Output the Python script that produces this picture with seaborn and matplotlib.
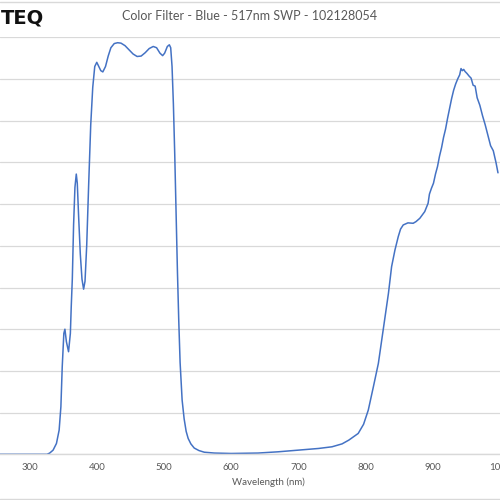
import matplotlib
matplotlib.use("Agg")
import matplotlib.pyplot as plt
from matplotlib.lines import Line2D
import seaborn as sns
import pandas as pd

wavelength = [256, 300, 320, 326, 330, 335, 340, 344, 346.6, 348.6, 351, 352.6, 354.8, 358, 360.7, 362, 363.6,
              365.5, 367.5, 369.5, 371, 373, 375.5, 378, 380.4, 382.5, 385, 388, 391, 394, 397, 400, 403, 406,
              409, 413, 417, 421, 426, 431, 436, 442,
              448, 454, 460, 466, 472, 478, 484, 489, 494, 498, 501, 505, 508, 510, 512, 514, 516, 518, 520, 522,
              524, 527, 530, 533, 536, 540, 545, 552, 560, 575, 600, 640, 670, 700, 730, 750, 765, 775, 789, 797,
              804, 811.6, 819, 824, 829, 834, 838.7, 843.7, 848.6, 852, 856, 863, 870.8, 875, 880.7, 888, 893,
              895, 898, 901, 904, 907, 910, 913, 916, 919, 922, 925, 928, 931, 934, 937, 940, 942, 944, 946, 948,
              951, 954, 957, 960, 963, 966, 970, 974, 978, 982, 986, 990, 994, 997]
transmission = [0, 0, 0, 0, 0.3, 1, 2.6, 5.8, 11.4, 21, 29, 30, 27, 24.6, 29, 35.4, 42,
                55, 64, 67.2, 65, 57, 48, 42, 39.6, 41.5, 50, 65, 79, 88, 93, 94, 93, 92,
                91.7, 93, 95.5, 97.5, 98.5, 98.7, 98.6, 98,
                97, 96, 95.4, 95.5, 96.3, 97.3, 97.8, 97.5, 96.2, 95.6, 96.2, 97.8, 98.2, 97.5, 93, 84, 72, 58, 44, 32,
                22, 13, 8.5, 5.5, 3.8, 2.5, 1.5, 0.9, 0.5, 0.3, 0.2, 0.3, 0.6, 1.0, 1.4, 1.8, 2.5, 3.4, 5.0, 7.2,
                10.6, 16.2, 21.8, 27.4, 33, 38.6, 45, 49, 52.2, 54, 55, 55.5, 55.4, 55.8, 56.6, 58.2, 60.2,
                62.4, 63.8, 65, 67.2, 69, 71.5, 73.5, 76, 78, 80.6, 83, 85.3, 87.3, 88.8, 90, 91, 92.5, 92, 92.3, 91.8,
                91.3, 90.7, 90.2, 88.5, 88.3, 85.5, 83.7, 81.2, 79, 76.5, 74, 72.8, 70, 67.5]
x_ticks = [300, 400, 500, 600, 700, 800, 900, 1000]
title = "Color Filter - Blue - 517nm SWP - 102128054"

df = pd.DataFrame({"Wavelength": wavelength, "T": transmission})

sns.set_theme(style="white")
plt.rcParams["font.family"] = ["Lato", "DejaVu Sans"]

fig = plt.figure(figsize=(5, 5), dpi=100)
ax = fig.add_axes([0.0, 1 - 454.3 / 500, 1.0, (454.3 - 37.3) / 500])
sns.lineplot(data=df, x="Wavelength", y="T", ax=ax, color="#4472c4", linewidth=1.1, sort=False)

ax.set_xlim(256, 997)
ax.set_ylim(0, 100)
ax.set_yticks(range(0, 101, 10))
ax.set_yticklabels([])
ax.tick_params(axis="y", length=0)
ax.set_xticks(x_ticks)
ax.set_xticklabels([str(t) for t in x_ticks], color="#595959", fontsize=7)
ax.tick_params(axis="x", length=0, pad=6)
ax.grid(axis="y", color="#d9d9d9", linewidth=0.9)
ax.set_axisbelow(True)
for s in ["top", "left", "right"]:
    ax.spines[s].set_visible(False)
ax.spines["bottom"].set_color("#d9d9d9")
ax.spines["bottom"].set_linewidth(1.0)
ax.set_ylabel("")
ax.set_xlabel("Wavelength (nm)", color="#595959", fontsize=7)
ax.xaxis.set_label_coords(268 / 500, -(482 - 454.3) / (454.3 - 37.3))
ax.xaxis.label.set_va("center")

fig.text(0.5, 1 - 16.5 / 500, title, ha="center", va="center", fontsize=9, color="#595959")
fig.text(0.002, 1 - 18 / 500, "TEQ", ha="left", va="center", fontsize=14, fontweight="bold",
         color="#111111", family=["DejaVu Sans"])
fig.add_artist(Line2D([0, 1], [1 - 1.5 / 500, 1 - 1.5 / 500], color="#d9d9d9", linewidth=1))
fig.add_artist(Line2D([0, 1], [1.5 / 500, 1.5 / 500], color="#d9d9d9", linewidth=1))

fig.savefig("out.png", dpi=100)
